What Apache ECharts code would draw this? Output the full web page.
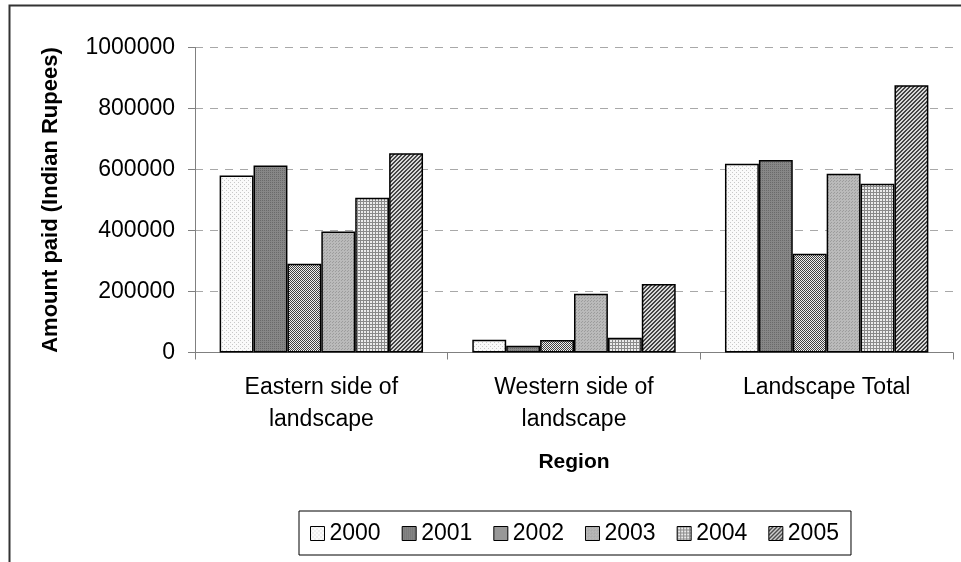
<!DOCTYPE html>
<html>
<head>
<meta charset="utf-8">
<script src="https://cdn.jsdelivr.net/npm/echarts@6/dist/echarts.min.js"></script>
<style>
  html, body { margin: 0; padding: 0; background: #ffffff; }
  #chart { width: 961px; height: 562px; }
</style>
</head>
<body>
<div id="chart"></div>
<script>
// Regions on the category axis
const regions = ['Eastern side of\nlandscape', 'Western side of\nlandscape', 'Landscape Total'];
// Years shown in the legend
const years = ['2000', '2001', '2002', '2003', '2004', '2005'];
// Amount paid per region (Indian Rupees), one array per year
const paid2000 = [580000, 42000, 619000];
const paid2001 = [613000, 22000, 631000];
const paid2002 = [291000, 41000, 324000];
const paid2003 = [397000, 193000, 586000];
const paid2004 = [507000, 48000, 553000];
const paid2005 = [653000, 225000, 876000];
// Value axis ticks
const yTicks = { min: 0, max: 1000000, step: 200000 };

const FONT = '"Liberation Sans", Arial, sans-serif';

// Small repeating canvas tiles used as monochrome fill patterns
function tile(size, bg, fg, cells) {
  const c = document.createElement('canvas');
  c.width = size; c.height = size;
  const g = c.getContext('2d');
  g.fillStyle = bg;
  g.fillRect(0, 0, size, size);
  g.fillStyle = fg;
  cells.forEach(function (p) { g.fillRect(p[0], p[1], 1, 1); });
  return { image: c, repeat: 'repeat' };
}

const patterns = [
  // sparse light dots on white
  tile(4, '#fafafa', '#c8c8c8', [[0, 0], [2, 2]]),
  // dark grey with darker dots
  tile(2, '#878787', '#6a6a6a', [[0, 0]]),
  // fine checker
  tile(4, '#f0f0f0', '#404040', [[0, 0], [1, 1], [2, 0], [3, 1], [0, 2], [1, 3], [2, 2], [3, 3]]),
  // light grey with faint dots
  tile(3, '#bababa', '#9c9c9c', [[0, 0], [2, 1]]),
  // small grid
  tile(3, '#ececec', '#8a8a8a', [[0, 0], [1, 0], [2, 0], [0, 1], [0, 2]]),
  // diagonal stripes
  tile(4, '#d8d8d8', '#454545', [[3, 0], [2, 1], [1, 2], [0, 3], [0, 0], [3, 1], [2, 2], [1, 3]])
];

const seriesValues = [paid2000, paid2001, paid2002, paid2003, paid2004, paid2005];

const chart = echarts.init(document.getElementById('chart'), null, { renderer: 'canvas' });

chart.setOption({
  animation: false,
  backgroundColor: '#ffffff',
  textStyle: { fontFamily: FONT },
  graphic: [{
    type: 'rect',
    silent: true,
    z: -10,
    shape: { x: 9.5, y: 5.5, width: 1200, height: 800 },
    style: { fill: 'none', stroke: '#333333', lineWidth: 2 }
  }],
  grid: { left: 195, right: 8, top: 47.5, bottom: 209.5, containLabel: false },
  legend: {
    data: years,
    left: 299,
    top: 511,
    orient: 'horizontal',
    icon: 'rect',
    itemWidth: 14,
    itemHeight: 14,
    itemGap: 21,
    padding: [11, 12, 10, 11],
    borderColor: '#000000',
    borderWidth: 1,
    itemStyle: { borderColor: '#000000', borderWidth: 1 },
    textStyle: { fontFamily: FONT, fontSize: 23, color: '#000000' }
  },
  xAxis: {
    type: 'category',
    data: regions,
    name: 'Region',
    nameLocation: 'middle',
    nameGap: 99,
    nameTextStyle: { fontFamily: FONT, fontSize: 21, fontWeight: 'bold', color: '#000000' },
    axisLine: { lineStyle: { color: '#808080', width: 1 } },
    axisTick: { show: true, length: 7, lineStyle: { color: '#808080' } },
    axisLabel: {
      interval: 0, fontFamily: FONT, fontSize: 23, color: '#000000',
      lineHeight: 32, margin: 19
    }
  },
  yAxis: {
    type: 'value',
    min: yTicks.min,
    max: yTicks.max,
    interval: yTicks.step,
    name: 'Amount paid (Indian Rupees)',
    nameLocation: 'middle',
    nameGap: 133,
    nameTextStyle: { fontFamily: FONT, fontSize: 22, fontWeight: 'bold', color: '#000000' },
    axisLine: { show: true, lineStyle: { color: '#808080', width: 1 } },
    axisTick: { show: true, length: 7, lineStyle: { color: '#808080' } },
    axisLabel: {
      fontFamily: FONT, fontSize: 23, color: '#000000', margin: 20,
      formatter: function (v) { return String(v); }
    },
    splitLine: { lineStyle: { color: '#a8a8a8', width: 1, type: [8, 7] } }
  },
  series: years.map(function (y, i) {
    return {
      name: y,
      type: 'bar',
      data: seriesValues[i],
      barGap: '0%',
      barCategoryGap: '19.5%',
      itemStyle: { color: patterns[i], borderColor: '#000000', borderWidth: 1.5 }
    };
  })
});
</script>
</body>
</html>
